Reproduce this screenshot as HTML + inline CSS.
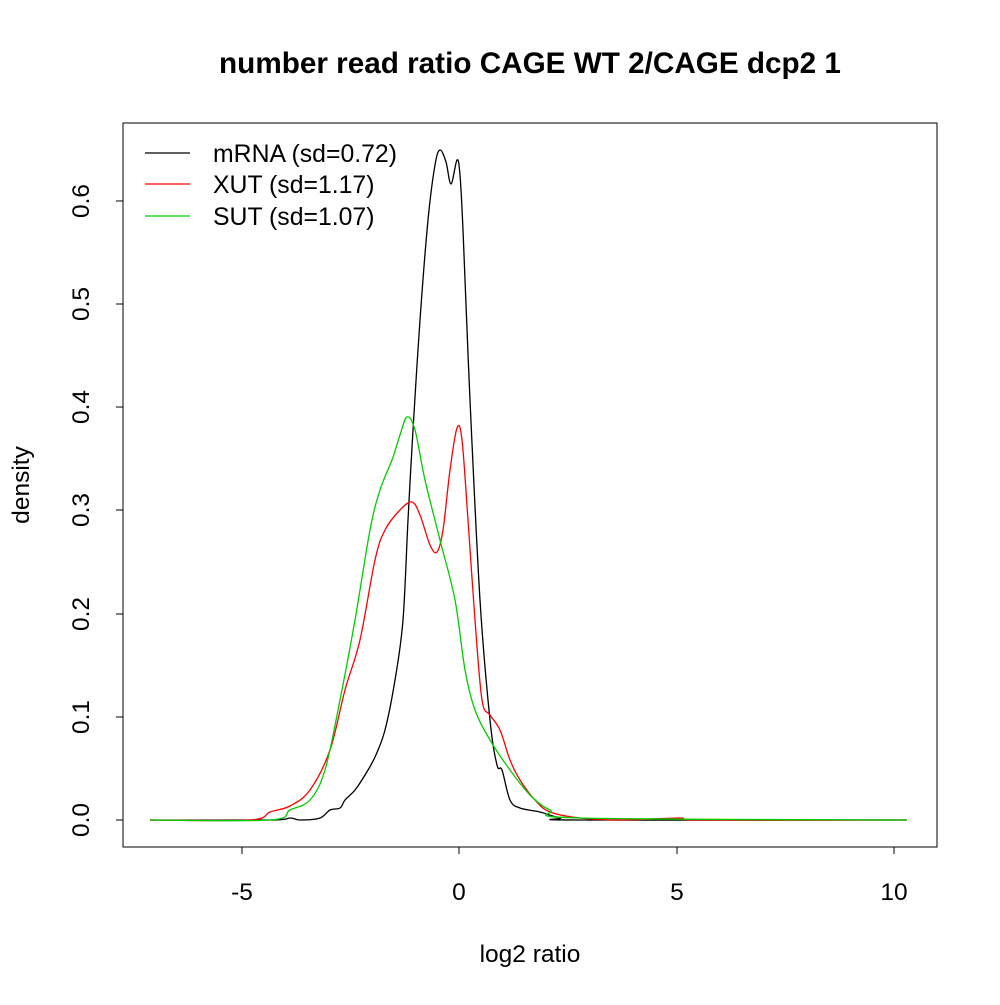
<!DOCTYPE html>
<html><head><meta charset="utf-8"><style>body{margin:0;background:#fff}</style></head><body>
<svg id="s" width="1000" height="1000" xmlns="http://www.w3.org/2000/svg" font-family="Liberation Sans, sans-serif">
<rect width="1000" height="1000" fill="#fff"/>
<text x="530" y="73" font-size="29.7" font-weight="bold" text-anchor="middle">number read ratio CAGE WT 2/CAGE dcp2 1</text>
<rect x="123" y="123" width="814" height="724" fill="none" stroke="#000" stroke-width="1"/>
<g stroke="#000" fill="none">
<line x1="242" y1="847" x2="894" y2="847"/>
<line x1="242" y1="847" x2="242" y2="854"/><line x1="459" y1="847" x2="459" y2="854"/>
<line x1="677" y1="847" x2="677" y2="854"/><line x1="894" y1="847" x2="894" y2="854"/>
<line x1="123" y1="820" x2="123" y2="201"/>
<line x1="116" y1="820" x2="123" y2="820"/><line x1="116" y1="717" x2="123" y2="717"/>
<line x1="116" y1="614" x2="123" y2="614"/><line x1="116" y1="510" x2="123" y2="510"/>
<line x1="116" y1="407" x2="123" y2="407"/><line x1="116" y1="304" x2="123" y2="304"/>
<line x1="116" y1="201" x2="123" y2="201"/>
</g>
<g font-size="24.5" text-anchor="middle">
<text x="242" y="900">-5</text><text x="459" y="900">0</text><text x="677" y="900">5</text><text x="894" y="900">10</text>
<text x="530" y="962">log2 ratio</text>
<text transform="translate(89,820) rotate(-90)">0.0</text>
<text transform="translate(89,717) rotate(-90)">0.1</text>
<text transform="translate(89,614) rotate(-90)">0.2</text>
<text transform="translate(89,510) rotate(-90)">0.3</text>
<text transform="translate(89,407) rotate(-90)">0.4</text>
<text transform="translate(89,304) rotate(-90)">0.5</text>
<text transform="translate(89,201) rotate(-90)">0.6</text>
<text transform="translate(29,485) rotate(-90)">density</text>
</g>
<g fill="none" stroke-width="1.3" stroke-linejoin="round">
<polyline class="c" stroke="#000" points="150,820 270,820 290,818 300,820 320,818 330,810 340,808 345,800 355,790 365,775 375,757 385,730 395,680 403,620 408,520 413,430 420,320 428,220 435,165 440,150 446,162 451,184 457,160 460,175 463,230 470,400 480,600 490,720 497,765 502,770 510,800 520,808 540,812 560,818 580,820 907,820"/>
<polyline class="c" stroke="#ff0000" points="150,820 250,820 270,812 290,806 310,790 330,750 345,690 360,640 375,560 385,530 400,510 412,502 420,515 430,545 437,552 443,530 450,470 457,428 462,440 468,520 475,620 482,700 490,715 500,730 510,760 520,780 535,800 550,812 580,818 620,820 680,818 700,820 907,820"/>
<polyline class="c" stroke="#00cd00" points="150,820 270,820 290,810 310,800 325,770 340,700 355,620 370,530 380,490 392,460 400,435 407,417 415,430 425,480 440,540 455,600 465,670 475,710 490,740 510,770 530,795 550,810 580,818 907,820"/>
<line x1="145" y1="153" x2="190" y2="153" stroke="#000"/>
<line x1="145" y1="184" x2="190" y2="184" stroke="#ff0000"/>
<line x1="145" y1="216" x2="190" y2="216" stroke="#00cd00"/>
</g>
<g font-size="24.8">
<text x="213" y="162">mRNA (sd=0.72)</text>
<text x="213" y="193">XUT (sd=1.17)</text>
<text x="213" y="225">SUT (sd=1.07)</text>
</g>
</svg>
<script>
document.querySelectorAll('polyline.c').forEach(function(pl){
 var p=pl.getAttribute('points').trim().split(/\s+/).map(function(s){return s.split(',').map(Number);});
 var d='M'+p[0][0]+','+p[0][1];
 for(var i=0;i<p.length-1;i++){
  var p0=p[i-1]||p[i],p1=p[i],p2=p[i+1],p3=p[i+2]||p2;
  var c1=[p1[0]+(p2[0]-p0[0])/6,p1[1]+(p2[1]-p0[1])/6];
  var c2=[p2[0]-(p3[0]-p1[0])/6,p2[1]-(p3[1]-p1[1])/6];
  d+=' C'+c1+' '+c2+' '+p2;
 }
 var path=document.createElementNS('http://www.w3.org/2000/svg','path');
 path.setAttribute('d',d);path.setAttribute('stroke',pl.getAttribute('stroke'));
 pl.parentNode.replaceChild(path,pl);
});
</script>
</body></html>
